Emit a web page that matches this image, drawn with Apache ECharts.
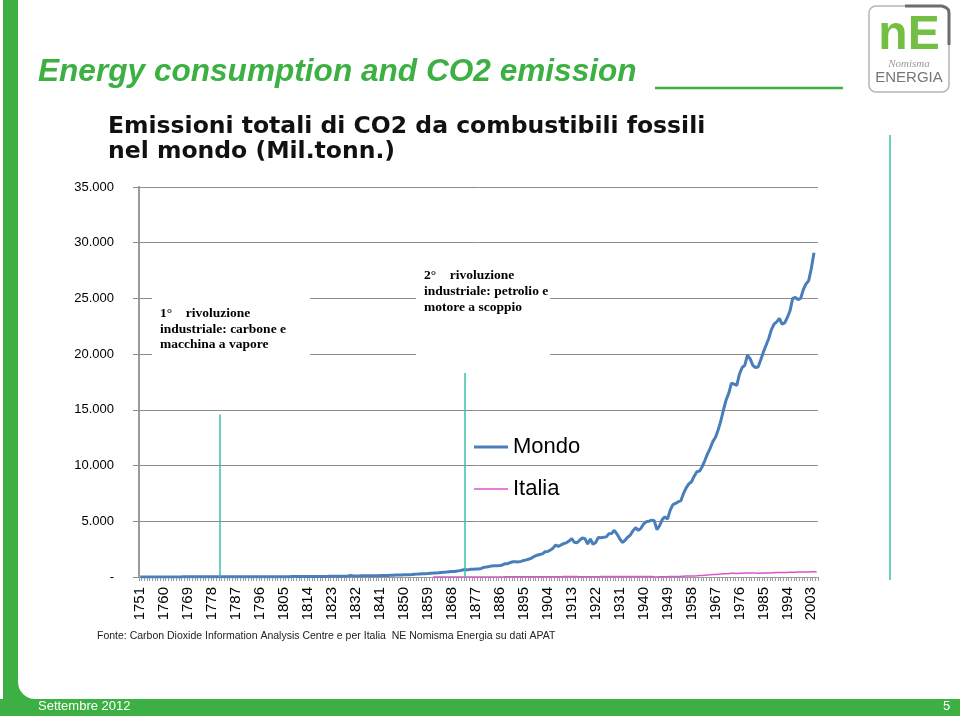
<!DOCTYPE html>
<html>
<head>
<meta charset="utf-8">
<script src="https://cdn.jsdelivr.net/npm/echarts@6/dist/echarts.min.js"></script>
<style>html,body{margin:0;padding:0;background:#fff;}#c{width:960px;height:716px;}</style>
</head>
<body>
<div id="c"></div>
<script>
// ---- data ----
var firstYear = 1751, lastYear = 2005;
var years = [];
for (var y = firstYear; y <= lastYear; y++) years.push(String(y));

// Mondo: 1751-2004, Mil. tonn. CO2
var mondo = [
 11,11,11,11,11,11,11,11,11,11,
 11,11,11,11,11,11,15,15,15,15,
 15,15,15,15,15,15,15,18,18,18,
 18,18,18,18,18,18,22,22,22,26,
 26,26,26,26,26,29,29,29,29,29,
 29,33,33,33,33,33,33,37,37,37,
 37,40,40,40,44,48,51,51,51,51,
 55,59,59,62,66,70,70,73,90,140,
 95,92,95,103,106,106,110,114,114,121,
 125,132,136,143,158,158,169,172,183,198,
 198,205,216,253,260,278,282,286,304,333,
 348,355,381,410,436,447,476,495,491,539,
 572,634,674,638,689,700,711,718,769,865,
 890,938,997,1008,1015,1030,1081,1198,1198,1304,
 1363,1370,1356,1403,1488,1535,1612,1704,1858,1957,
 2023,2074,2261,2286,2429,2590,2873,2748,2876,3001,
 3063,3221,3455,3114,3070,3301,3499,3429,2953,3415,
 2942,3096,3554,3528,3572,3602,3891,3902,4195,3858,
 3444,3103,3272,3565,3763,4140,4430,4184,4367,4759,
 4950,5000,5100,5050,4250,4600,5150,5400,5200,6000,
 6500,6600,6750,6850,7500,8000,8350,8550,9050,9450,
 9500,9900,10450,11050,11550,12150,12550,13200,14000,15000,
 15900,16500,17400,17300,17200,18200,18800,19000,19900,19600,
 19000,18800,18850,19500,20200,20800,21400,22200,22700,22900,
 23200,22700,22800,23300,23900,25000,25100,24900,25000,25800,
 26300,26600,27700,29100
];
// Italia: 1861-2005
var italiaStart = 1861;
var italia = [
 1,1,1,1,2,2,2,2,2,3,
 3,3,4,4,4,5,5,5,6,6,
 7,7,8,9,9,10,11,12,13,13,
 13,13,14,14,14,15,16,17,18,19,
 19,20,22,23,25,27,30,31,33,35,
 36,38,40,37,34,32,28,26,25,25,
 22,27,32,35,37,38,40,41,45,41,
 36,35,35,38,40,42,47,50,52,55,
 50,45,35,20,10,20,30,32,35,40,
 45,50,55,62,70,80,85,90,100,110,
 125,140,160,180,195,215,235,250,265,290,
 300,315,335,330,320,345,340,355,365,370,
 360,350,345,345,350,355,365,375,390,410,
 410,405,400,405,430,420,425,440,445,450,
 450,455,470,475,475
];
var yTicks = [0, 5000, 10000, 15000, 20000, 25000, 30000, 35000];
// revolution markers: [year, height]
var markerYears = ['1781', '1873'];
var markerTops = [14575, 18300];

// ---- build ----
var mondoData = mondo.slice();
while (mondoData.length < years.length) mondoData.push(null);
var italiaData = [];
for (var i = 0; i < years.length; i++) {
  var yr = firstYear + i;
  italiaData.push(yr >= italiaStart ? italia[yr - italiaStart] : null);
}

var GREEN = '#3cb043';
var TEAL = '#3dbfa8';
var SANS = "'Liberation Sans',Arial,Helvetica,sans-serif";
var MONDO_C = '#4a7ebb', ITALIA_C = '#da55cb';

var legendBase = {
  orient: 'vertical', left: 469, itemWidth: 34, icon: 'rect',
  textStyle: {fontSize: 22, color: '#000', fontFamily: SANS}
};

var chart = echarts.init(document.getElementById('c'), null, {renderer: 'canvas'});
chart.setOption({
  animation: false,
  backgroundColor: '#ffffff',
  grid: {left: 139, right: 142, top: 187, bottom: 139, containLabel: false},
  legend: [
    Object.assign({}, legendBase, {data: ['Mondo'], top: 431, itemHeight: 3}),
    Object.assign({}, legendBase, {data: ['Italia'], top: 473, itemHeight: 1.5})
  ],
  xAxis: {
    type: 'category',
    data: years,
    boundaryGap: true,
    axisLine: {show: true, lineStyle: {color: '#9a9a9a', width: 1}},
    axisTick: {show: true, interval: 0, length: 4, lineStyle: {color: '#9a9a9a'}},
    axisLabel: {interval: 8, rotate: 90, fontSize: 15, color: '#000', margin: 10, fontFamily: SANS},
    splitLine: {show: false}
  },
  yAxis: {
    type: 'value',
    min: yTicks[0], max: yTicks[yTicks.length - 1], interval: 5000,
    axisLine: {show: true, lineStyle: {color: '#9a9a9a', width: 2}},
    axisTick: {show: true, length: 6, lineStyle: {color: '#8c8c8c'}},
    axisLabel: {
      margin: 25, fontSize: 13, color: '#000', fontFamily: SANS,
      formatter: function (v) { return v === 0 ? '-' : (v / 1000) + '.000'; }
    },
    splitLine: {show: true, lineStyle: {color: '#8c8c8c', width: 1}}
  },
  series: [
    {
      name: 'Mondo', type: 'line', data: mondoData, symbol: 'none', z: 3,
      lineStyle: {color: MONDO_C, width: 3}, itemStyle: {color: MONDO_C},
      markLine: {
        silent: true, symbol: ['none', 'none'], label: {show: false},
        lineStyle: {color: TEAL, width: 1.5, type: 'solid'},
        data: [
          [{coord: [markerYears[0], 0]}, {coord: [markerYears[0], markerTops[0]]}],
          [{coord: [markerYears[1], 0]}, {coord: [markerYears[1], markerTops[1]]}]
        ]
      }
    },
    {
      name: 'Italia', type: 'line', data: italiaData, symbol: 'none', z: 2,
      lineStyle: {color: ITALIA_C, width: 1.5}, itemStyle: {color: ITALIA_C}
    }
  ],
  graphic: [
    // left green bar + footer
    {type: 'rect', shape: {x: 3, y: 0, width: 15, height: 716}, style: {fill: GREEN}, z: 50},
    {type: 'rect', shape: {x: 0, y: 699, width: 960, height: 17}, style: {fill: GREEN}, z: 50},
    {type: 'rect', shape: {x: 18, y: 682, width: 17, height: 17}, style: {fill: GREEN}, z: 50},
    {type: 'circle', shape: {cx: 35, cy: 682, r: 17}, style: {fill: '#fff'}, z: 51},
    {type: 'text', left: 38, top: 700, z: 52,
     style: {text: 'Settembre 2012', fill: '#fff', font: "13px " + SANS}},
    {type: 'text', left: 943, top: 700, z: 52,
     style: {text: '5', fill: '#fff', font: "13px " + SANS}},
    // page title
    {type: 'text', left: 38, top: 56, z: 51,
     style: {text: 'Energy consumption and CO2 emission', fill: GREEN,
             font: "italic bold 31.6px " + SANS}},
    {type: 'line', shape: {x1: 655, y1: 88, x2: 843, y2: 88}, style: {stroke: GREEN, lineWidth: 2.5}, z: 51},
    // logo
    {type: 'rect', shape: {x: 869, y: 6, width: 80, height: 86, r: 7}, style: {fill: '#fff', stroke: '#b5b5b5', lineWidth: 1.5}, z: 51},
    {type: 'polyline', shape: {points: [[905, 6], [942, 6], [946, 7.5], [948.5, 10], [949, 13], [949, 45]]},
     style: {fill: null, stroke: '#6d6d6d', lineWidth: 3}, z: 52},
    {type: 'text', x: 909, y: 36, z: 52,
     style: {text: 'nE', fill: '#72bf44', align: 'center', verticalAlign: 'middle',
             font: "bold 48px " + SANS}},
    {type: 'text', x: 909, y: 64, z: 52,
     style: {text: 'Nomisma', fill: '#9a9a9a', align: 'center', verticalAlign: 'middle',
             font: "italic 11px 'Liberation Serif',serif"}},
    {type: 'text', x: 909, y: 78, z: 52,
     style: {text: 'ENERGIA', fill: '#777', align: 'center', verticalAlign: 'middle',
             font: "15px " + SANS}},
    // chart title
    {type: 'text', left: 108, top: 115, z: 51,
     style: {text: 'Emissioni totali di CO2 da combustibili fossili\nnel mondo (Mil.tonn.)', fill: '#111',
             lineHeight: 24.5, font: "bold 23.5px 'DejaVu Sans',sans-serif"}},
    // annotation boxes
    {type: 'rect', shape: {x: 152, y: 288, width: 158, height: 79}, style: {fill: '#fff'}, z: 60},
    {type: 'text', left: 160, top: 306, z: 61,
     style: {text: '1°    rivoluzione\nindustriale: carbone e\nmacchina a vapore', fill: '#000', lineHeight: 15.5,
             font: "bold 13.5px 'Liberation Serif','Times New Roman',serif"}},
    {type: 'rect', shape: {x: 416, y: 262, width: 134, height: 98}, style: {fill: '#fff'}, z: 60},
    {type: 'text', left: 424, top: 268, z: 61,
     style: {text: '2°    rivoluzione\nindustriale: petrolio e\nmotore a scoppio', fill: '#000', lineHeight: 16,
             font: "bold 13.5px 'Liberation Serif','Times New Roman',serif"}},
    // right teal line
    {type: 'line', shape: {x1: 890, y1: 135, x2: 890, y2: 580}, style: {stroke: TEAL, lineWidth: 1.5}, z: 51},
    // source
    {type: 'text', left: 97, top: 631, z: 51,
     style: {text: 'Fonte: Carbon Dioxide Information Analysis Centre e per Italia  NE Nomisma Energia su dati APAT',
             fill: '#222', font: "10.5px " + SANS}}
  ]
});
</script>
</body>
</html>
